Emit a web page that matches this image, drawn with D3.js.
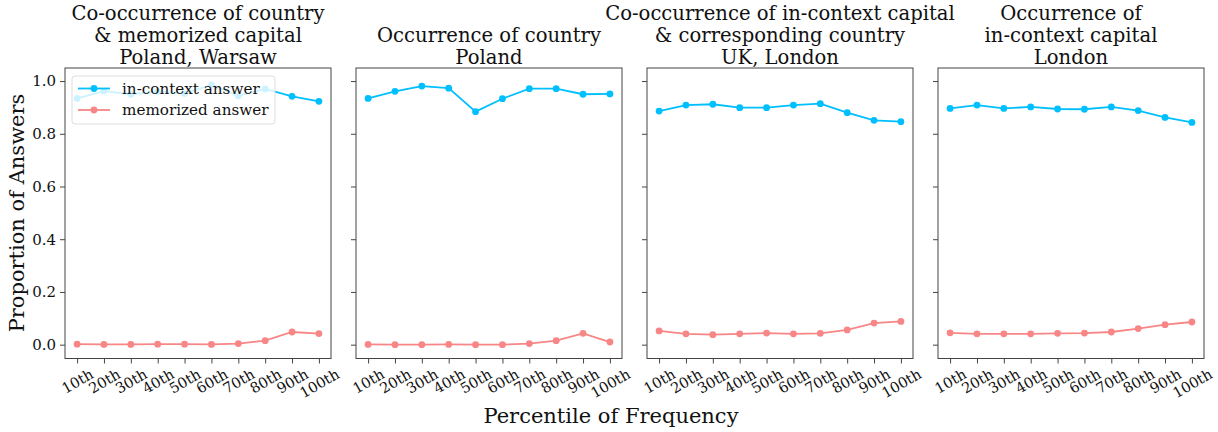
<!DOCTYPE html>
<html><head><meta charset="utf-8">
<script src="https://cdn.jsdelivr.net/npm/d3@7"></script>
<style>body{margin:0;background:#fff}svg{display:block}text{font-family:"DejaVu Serif",serif;fill:#111}</style>
</head><body><svg id="c" width="1218" height="432"></svg>
<script>
const categories = ["10th","20th","30th","40th","50th","60th","70th","80th","90th","100th"];
const titles = [
  ["Co-occurrence of country","& memorized capital","Poland, Warsaw"],
  ["Occurrence of country","Poland"],
  ["Co-occurrence of in-context capital","& corresponding country","UK, London"],
  ["Occurrence of","in-context capital","London"]
];
const inContext = [
  [0.934,0.962,0.950,0.960,0.953,0.985,0.944,0.970,0.942,0.923],
  [0.934,0.961,0.981,0.973,0.884,0.933,0.971,0.971,0.950,0.951],
  [0.886,0.909,0.912,0.899,0.899,0.909,0.914,0.880,0.851,0.846],
  [0.896,0.909,0.896,0.902,0.894,0.893,0.902,0.888,0.862,0.843]
];
const memorized = [
  [0.002,0.001,0.001,0.002,0.002,0.001,0.004,0.015,0.048,0.042],
  [0.001,0.000,0.000,0.001,0.000,0.000,0.004,0.015,0.043,0.010],
  [0.052,0.041,0.038,0.041,0.044,0.041,0.043,0.056,0.082,0.088],
  [0.045,0.041,0.041,0.041,0.043,0.044,0.048,0.061,0.076,0.086]
];
const seriesNames = ["in-context answer","memorized answer"];
const yTicks = [0.0,0.2,0.4,0.6,0.8,1.0];
const colors = ["#00bfff","#f88686"];

(function(){
const svg = d3.select("#c");
const topY = 68, bottomY = 358.5, pw = 266, gapX = 291, left0 = 65;
const y = d3.scaleLinear().domain([-0.0525, 1.0495]).range([bottomY, topY]);

for (let p = 0; p < 4; p++) {
  const L = left0 + p * gapX;
  const step = pw / 9.9;
  const g = svg.append("g");
  const xs = d3.scaleLinear().domain([0, 9]).range([L + step * 0.45, L + step * 9.45]);

  // y axis
  const ya = d3.axisLeft(y).tickValues(yTicks).tickSize(5).tickPadding(4)
    .tickFormat(p === 0 ? d3.format(".1f") : () => "");
  const yg = g.append("g").attr("transform", `translate(${L},0)`).call(ya);
  yg.select(".domain").remove();
  yg.selectAll("line").attr("stroke", "#444");
  yg.selectAll("text").attr("font-size", 15).attr("font-family","DejaVu Serif").attr("fill","#111");

  // x axis
  const xa = d3.axisBottom(xs).tickValues(d3.range(10)).tickSize(5).tickFormat(i => categories[i]);
  const xg = g.append("g").attr("transform", `translate(0,${bottomY})`).call(xa);
  xg.select(".domain").remove();
  xg.selectAll("line").attr("stroke", "#444");
  xg.selectAll("text").attr("font-size", 14.5).attr("font-family","DejaVu Serif").attr("fill","#111")
    .attr("text-anchor","middle").attr("y", 0)
    .each(function(){
      const t = d3.select(this);
      const w = this.getComputedTextLength();
      const h = 14.5;
      const rh = w * Math.sin(Math.PI/6) + h * Math.cos(Math.PI/6);
      const cy = 5 + 3 + rh / 2;
      t.attr("transform", `translate(0,${cy}) rotate(-30)`).attr("dy", "0.35em");
    });

  // frame
  g.append("rect").attr("x", L).attr("y", topY).attr("width", pw).attr("height", bottomY - topY)
    .attr("fill","none").attr("stroke","#444").attr("stroke-width",1);

  // title
  const tl = titles[p];
  const lh = 22;
  tl.forEach((s, k) => {
    g.append("text").attr("x", L + pw/2).attr("y", topY - 4 - (tl.length - 1 - k) * lh)
      .attr("text-anchor","middle").attr("font-size", 19.6).text(s);
  });

  // series
  [inContext[p], memorized[p]].forEach((vals, si) => {
    const line = d3.line().x((d,i) => xs(i)).y(d => y(d));
    g.append("path").datum(vals).attr("d", line).attr("fill","none")
      .attr("stroke", colors[si]).attr("stroke-width", 1.8);
    g.selectAll(null).data(vals).enter().append("circle")
      .attr("cx",(d,i)=>xs(i)).attr("cy",d=>y(d)).attr("r",3.4).attr("fill",colors[si]);
  });

  if (p === 0) {
    const lg = g.append("g");
    lg.append("rect").attr("x", L + 7).attr("y", 76).attr("width", 203).attr("height", 48)
      .attr("rx", 3).attr("fill","#fff").attr("fill-opacity",0.8).attr("stroke","#ddd");
    seriesNames.forEach((n, k) => {
      const cy = 88.5 + k * 21.5;
      lg.append("line").attr("x1", L + 13).attr("x2", L + 45).attr("y1", cy).attr("y2", cy)
        .attr("stroke", colors[k]).attr("stroke-width", 1.8);
      lg.append("circle").attr("cx", L + 29).attr("cy", cy).attr("r", 3.4).attr("fill", colors[k]);
      lg.append("text").attr("x", L + 57).attr("y", cy).attr("dy","0.35em").attr("font-size", 15.2).text(n);
    });
  }
}

svg.append("text").attr("transform","translate(24,213) rotate(-90)").attr("text-anchor","middle")
  .attr("font-size", 21).text("Proportion of Answers");
svg.append("text").attr("x", 611).attr("y", 423).attr("text-anchor","middle")
  .attr("font-size", 21).text("Percentile of Frequency");
})();
</script></body></html>
